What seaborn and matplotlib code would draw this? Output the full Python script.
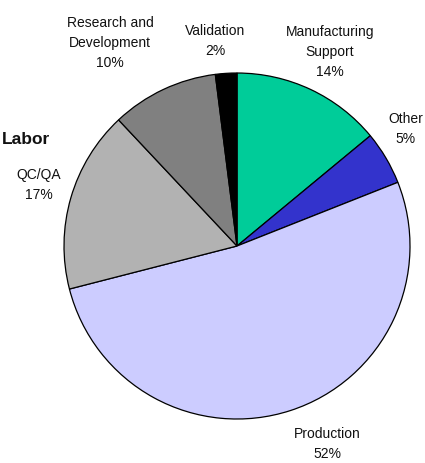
import matplotlib
matplotlib.use("Agg")
import matplotlib.pyplot as plt
import seaborn as sns
import numpy as np

# <--- chart data --->
categories = ["Manufacturing\nSupport", "Other", "Production", "QC/QA",
              "Research and\nDevelopment", "Validation"]
shares = [14, 5, 52, 17, 10, 2]
colors = ["#00CC99", "#3333CC", "#CCCCFF", "#B2B2B2", "#808080", "#000000"]
fig_title = "Labor"

# label offsets (radius multiple, angle in degrees) relative to pie centre
label_r = [1.25, 1.19, 1.25, 1.20, 1.39, 1.20]
label_ang = [64.5, 35.0, -65.4, 162.7, 121.8, 96.0]

sns.set_theme(style="white")
plt.rcParams["font.family"] = ["Liberation Sans", "DejaVu Sans"]

fig = plt.figure(figsize=(4.25, 4.64), dpi=100)
ax = fig.add_axes([0.1506, 0.0948, 0.8141, 0.7457])

wedges, _ = ax.pie(
    shares,
    colors=colors,
    startangle=90,
    counterclock=False,
    wedgeprops=dict(edgecolor="black", linewidth=0.9),
)
ax.set_aspect("equal")
ax.set_xlim(-1, 1)
ax.set_ylim(-1, 1)

for name, val, r, a in zip(categories, shares, label_r, label_ang):
    t = np.deg2rad(a)
    ax.text(r * np.cos(t), r * np.sin(t), f"{name}\n{val}%",
            ha="center", va="center", fontsize=10, linespacing=1.55,
            color="#111111", clip_on=False)

fig.text(2 / 425, 1 - 140 / 464, fig_title, ha="left", va="center",
         fontsize=12.5, fontweight="bold", color="#111111")

fig.savefig("out.png", dpi=100)
